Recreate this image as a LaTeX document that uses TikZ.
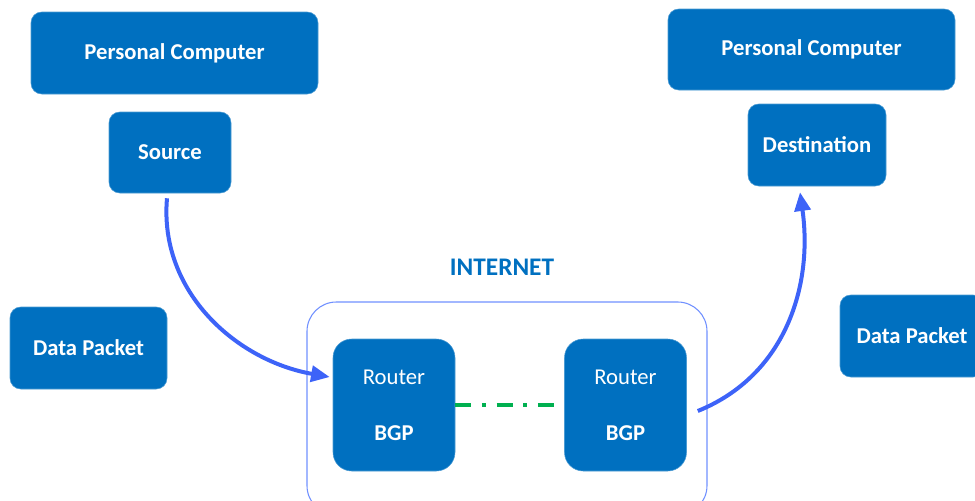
\documentclass[tikz,border=0pt]{standalone}
\usepackage{fontspec}
\setmainfont{Carlito}
\definecolor{netBlue}{HTML}{0070C0}
\definecolor{netArrow}{HTML}{3D63F8}
\definecolor{netFrame}{HTML}{7090FF}
\definecolor{netGreen}{HTML}{00B050}
\usetikzlibrary{arrows.meta, positioning, calc}

\begin{document}
\begin{tikzpicture}[x=0.75pt, y=-0.75pt,
  blockbox/.style={rounded corners=8pt, fill=netBlue, draw=netBlue!70!white,
    text=white, font=\fontsize{17}{20}\selectfont\bfseries, align=center,
    inner sep=0pt, minimum height=61.5pt},
  routerbox/.style={rounded corners=14pt, fill=netBlue, draw=netBlue!70!white,
    text=white, font=\fontsize{17}{20}\selectfont, align=center,
    inner sep=0pt, minimum width=91.5pt, minimum height=99pt},
  arr/.style={-{Triangle[length=14pt, width=12pt]}, line width=3pt, netArrow}]

  \useasboundingbox (0,0) rectangle (975,500);

  % hosts
  \node[blockbox, minimum width=215.25pt] (pcL) at (174.5,53) {Personal Computer};
  \node[blockbox, minimum width=91.5pt, minimum height=60.75pt] (src) at (170,152.5) {Source};
  \node[blockbox, minimum width=215.25pt, minimum height=60.75pt] (pcR) at (811.5,49.5) {Personal Computer};
  \node[blockbox, minimum width=103.5pt] (dst) at (817,145) {Destination};
  \node[blockbox, minimum width=117.75pt] (pktL) at (88.5,348) {Data Packet};
  \node[blockbox, minimum width=108pt] (pktR) at (912,336) {Data Packet};

  % internet
  \node[text=netBlue, font=\fontsize{19}{22}\selectfont\bfseries] (inet) at (502,267) {INTERNET};
  \draw[netFrame, line width=0.8pt, rounded corners=22pt] (307,302) rectangle (707,515);
  \node[routerbox] (rtA) at (394,405) {Router\\[22pt]\textbf{BGP}};
  \node[routerbox] (rtB) at (625.5,405) {Router\\[22pt]\textbf{BGP}};

  \draw[netGreen, line width=2.6pt, dash pattern=on 12pt off 8pt on 3pt off 8pt]
    (rtA.east) -- (rtB.west);

  % packet path
  \draw[arr] ($(src.south)+(-3,5)$) to[out=-95, in=170] ($(rtA.west)+(-3,-28)$);
  \draw[arr] ($(rtB.east)+(11,6)$) to[out=22, in=-82] ($(dst.south)+(-17,6)$);
\end{tikzpicture}
\end{document}
